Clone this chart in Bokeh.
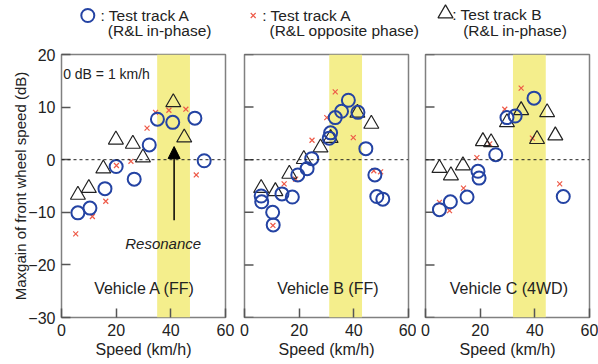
from bokeh.plotting import figure
from bokeh.layouts import column, row
from bokeh.models import Range1d, FixedTicker, BoxAnnotation, Span, Arrow, NormalHead, Label
from bokeh.core.properties import value
from bokeh.embed import file_html
from bokeh.resources import INLINE

# ---------------- data ----------------
x_ticks = [0, 20, 40, 60]
y_ticks = [-30, -20, -10, 0, 10, 20]

# Vehicle A (FF)
a_circ_x = [6.0, 10.4, 15.9, 20.0, 26.6, 32.1, 35.1, 40.7, 48.8, 52.2]
a_circ_y = [-10.1, -9.2, -5.5, -1.3, -3.7, 2.8, 7.7, 7.1, 7.9, -0.2]
a_cross_x = [5.2, 11.3, 16.2, 20.1, 25.4, 31.3, 34.4, 39.3, 45.5, 49.3]
a_cross_y = [-14.1, -10.8, -7.9, -1.1, -0.3, 6.0, 9.0, 9.4, 9.6, -2.9]
a_tri_x = [6.0, 10.0, 15.3, 19.9, 26.1, 29.8, 40.9, 44.9]
a_tri_y = [-6.7, -5.4, -1.7, 3.8, 3.0, 0.4, 10.9, 4.2]
a_band = [35, 47]

# Vehicle B (FF)
b_circ_x = [6.1, 6.3, 10.3, 10.5, 13.7, 17.5, 19.5, 22.9, 24.6, 31.0, 31.5, 33.2, 35.5, 38.0, 41.5, 44.4, 47.7, 48.4, 50.6]
b_circ_y = [-6.9, -8.0, -10.0, -12.4, -6.5, -7.1, -2.9, -1.7, 0.2, 4.1, 5.1, 8.0, 9.2, 11.3, 9.0, 2.1, -2.9, -7.0, -7.5]
b_cross_x = [10.4, 14.5, 18.7, 24.7, 30.1, 33.2, 39.8, 47.3, 49.8]
b_cross_y = [-12.5, -4.6, -3.7, 3.7, 8.0, 12.9, 4.2, -2.1, -2.3]
b_tri_x = [6.1, 11.3, 16.4, 21.7, 27.8, 31.5, 41.3, 46.4]
b_tri_y = [-5.4, -6.0, -2.7, 0.1, 2.3, 4.1, 8.9, 6.8]
b_band = [31, 43]

# Vehicle C (4WD)
c_circ_x = [5.1, 9.1, 15.2, 19.2, 19.6, 25.7, 29.8, 32.8, 39.7, 50.4]
c_circ_y = [-9.5, -8.0, -7.1, -2.2, -3.5, 0.95, 8.0, 8.3, 11.7, -7.0]
c_cross_x = [5.1, 8.8, 13.9, 18.8, 23.5, 29.0, 35.0, 39.1, 49.1]
c_cross_y = [-8.1, -9.7, -5.4, 0.4, 3.0, 9.6, 13.6, 4.1, -4.6]
c_tri_x = [5.1, 9.3, 13.7, 21.0, 24.0, 29.8, 35.0, 40.8, 44.5, 47.5]
c_tri_y = [-1.6, -3.0, -1.1, 3.5, 3.3, 7.1, 9.4, 3.9, 9.0, 4.6]
c_band = [32, 44]

vehicle_names = ["Vehicle A (FF)", "Vehicle B (FF)", "Vehicle C (4WD)"]
legend_line1 = [": Test track A", ": Test track A", ": Test track B"]
legend_line2 = ["(R&L in-phase)", "(R&L opposite phase)", "(R&L in-phase)"]

# ---------------- style ----------------
FONT = "Liberation Sans"
BLUE = "#2443a3"
RED = "#ee5a48"
TRI = "#222222"
YELLOW = "#f4ee8c"
TXT = "#222222"
TICK = "#555555"


def make_panel(width, bl, br, cx, cy, xx, xy, tx, ty, band, name, first):
    p = figure(width=width, height=318, x_range=Range1d(0, 60), y_range=Range1d(-30, 20),
               output_backend="svg", toolbar_location=None,
               min_border_left=bl, min_border_right=br, min_border_top=8, min_border_bottom=47)
    p.grid.visible = False
    p.background_fill_color = "white"
    p.border_fill_color = "white"
    p.outline_line_color = "#808080"
    p.outline_line_width = 1.5
    for ax in (p.xaxis[0], p.yaxis[0]):
        ax.major_tick_in = 9
        ax.major_tick_out = 0
        ax.minor_tick_line_color = None
        ax.axis_line_color = None
        ax.major_tick_line_color = TICK
        ax.major_tick_line_width = 1.5
        ax.major_label_text_font = FONT
        ax.major_label_text_font_size = "16px"
        ax.major_label_text_color = TXT
        ax.axis_label_text_font = FONT
        ax.axis_label_text_font_size = "16px"
        ax.axis_label_text_font_style = "normal"
        ax.axis_label_text_color = TXT
    p.xaxis[0].ticker = FixedTicker(ticks=x_ticks)
    p.yaxis[0].ticker = FixedTicker(ticks=y_ticks)
    p.xaxis[0].axis_label = "Speed (km/h)"
    p.xaxis[0].major_label_standoff = 6
    p.xaxis[0].axis_label_standoff = 2
    if first:
        p.yaxis[0].axis_label = "Maxgain of front wheel speed (dB)"
        p.yaxis[0].axis_label_text_font_size = "15px"
        p.yaxis[0].major_label_standoff = 6
        p.yaxis[0].axis_label_standoff = -4
    else:
        p.yaxis[0].visible = False
        # inward tick marks on the left frame edge (half of each dash is clipped by the frame)
        p.scatter([x_ticks[0]] * len(y_ticks), y_ticks, marker="dash", size=18,
                  line_color=TICK, line_width=1.5)

    p.add_layout(BoxAnnotation(left=band[0], right=band[1], fill_color=YELLOW, fill_alpha=1.0,
                               line_color=None, level="underlay"))
    p.add_layout(Span(location=0, dimension="width", line_color="#222222", line_width=1,
                      line_dash="3 3"))

    p.scatter(xx, xy, marker="x", size=7, line_color=RED, line_width=1.2)
    p.scatter(tx, ty, marker="triangle", size=15, line_color=TRI, line_width=1.2, fill_color=None)
    p.scatter(cx, cy, marker="circle", size=13, line_color=BLUE, line_width=2, fill_color=None)

    p.add_layout(Label(x=30.5, y=-24.5, text=name, text_font=FONT, text_font_size="16px",
                       text_color=TXT, text_align="center", text_baseline="middle"))
    return p


p1 = make_panel(235, 61, 10, a_circ_x, a_circ_y, a_cross_x, a_cross_y, a_tri_x, a_tri_y,
                a_band, vehicle_names[0], True)
p2 = make_panel(181, 9, 8, b_circ_x, b_circ_y, b_cross_x, b_cross_y, b_tri_x, b_tri_y,
                b_band, vehicle_names[1], False)
p3 = make_panel(182, 9, 9, c_circ_x, c_circ_y, c_cross_x, c_cross_y, c_tri_x, c_tri_y,
                c_band, vehicle_names[2], False)

p1.add_layout(Label(x=0.6, y=16.3, text="0 dB = 1 km/h", text_font=FONT, text_font_size="14px",
                    text_color=TXT, text_align="left", text_baseline="middle"))
p1.add_layout(Label(x=37.2, y=-16.0, text="Resonance", text_font=FONT, text_font_size="15px",
                    text_font_style="italic", text_color=TXT, text_align="center",
                    text_baseline="middle"))
p1.add_layout(Arrow(x_start=41.2, y_start=-11.5, x_end=41.2, y_end=2.5, line_color="black",
                    line_width=1.5,
                    end=NormalHead(size=12, fill_color="black", line_color="black")))

# ---------------- legend strip ----------------
leg = figure(width=598, height=46, x_range=Range1d(0, 598), y_range=Range1d(46, 0),
             output_backend="svg", toolbar_location=None, min_border=0)
leg.axis.visible = False
leg.grid.visible = False
leg.outline_line_color = None
leg.background_fill_color = "white"
leg.border_fill_color = "white"

mk_x = [87.3, 252.7, 445.0]
mk_y = [15, 15, 13]
t1_x = [100.0, 261.7, 451.7]
t2_x = [107.3, 269.0, 462.7]
row1_y = [15, 15, 14]
row2_y = [30, 30, 30]

leg.scatter([mk_x[0]], [mk_y[0]], marker="circle", size=13, line_color=BLUE, line_width=2,
            fill_color=None)
leg.scatter([mk_x[1]], [mk_y[1]], marker="x", size=7, line_color=RED, line_width=1.2)
leg.scatter([mk_x[2]], [mk_y[2]], marker="triangle", size=15, line_color=TRI, line_width=1.2,
            fill_color=None)
leg.text(t1_x, row1_y, text=legend_line1, text_font=value(FONT), text_font_size="15.5px",
         text_color=TXT, text_align="left", text_baseline="middle")
leg.text(t2_x, row2_y, text=legend_line2, text_font=value(FONT), text_font_size="15.5px",
         text_color=TXT, text_align="left", text_baseline="middle")

layout = column(leg, row(p1, p2, p3, spacing=0), spacing=0)

open("out.html", "w").write(file_html(layout, INLINE))
